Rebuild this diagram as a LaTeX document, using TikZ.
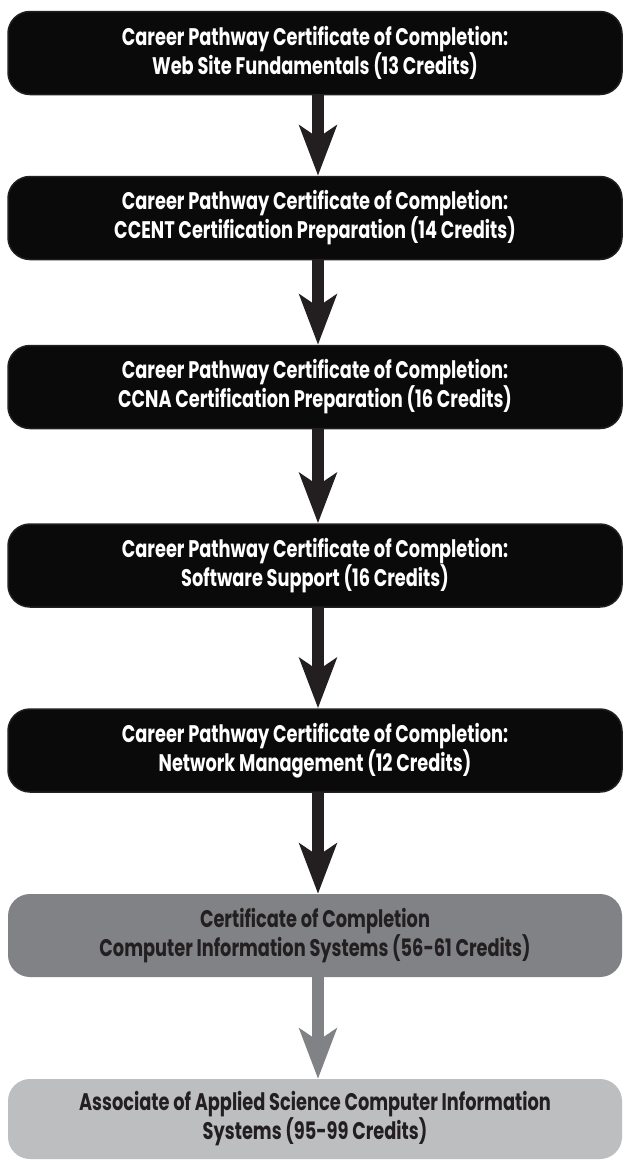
\documentclass[tikz,border=0pt]{standalone}
\usepackage{fontspec}
\newfontfamily\boxfont[FakeStretch=0.74]{Poppins}
\usetikzlibrary{arrows.meta}
\definecolor{inkblack}{HTML}{0A0A0A}
\definecolor{edgeblack}{HTML}{231F20}
\definecolor{midgray}{HTML}{808285}
\definecolor{lightgray}{HTML}{BCBEC0}
\tikzset{
  stagebox/.style={rounded corners=22pt, minimum width=614pt, minimum height=83pt,
    inner sep=0pt, align=center, font=\boxfont\bfseries\fontsize{24}{29}\selectfont},
  darkbox/.style={stagebox, fill=inkblack, draw=edgeblack, line width=1.5pt, text=white},
  graybox/.style={stagebox, fill=midgray, text=edgeblack},
  palebox/.style={stagebox, fill=lightgray, text=edgeblack},
  flowarrow/.style={line width=12pt, draw=edgeblack,
    -{Stealth[length=50pt,width=37pt,inset=12pt]}},
  grayarrow/.style={flowarrow, draw=midgray}
}
\begin{document}
\begin{tikzpicture}[x=1pt,y=-1pt]
\useasboundingbox (0,0) rectangle (624,1160);
\fill[white] (0,0) rectangle (624,1160);
\node[darkbox] (b1) at (315,53) {Career Pathway Certificate of Completion:\\Web Site Fundamentals (13 Credits)};
\node[darkbox] (b2) at (315,218) {Career Pathway Certificate of Completion:\\CCENT Certification Preparation (14 Credits)};
\node[darkbox] (b3) at (315,387) {Career Pathway Certificate of Completion:\\CCNA Certification Preparation (16 Credits)};
\node[darkbox] (b4) at (315,565.5) {Career Pathway Certificate of Completion:\\Software Support (16 Credits)};
\node[darkbox] (b5) at (315,750.5) {Career Pathway Certificate of Completion:\\Network Management (12 Credits)};
\node[graybox] (b6) at (315,935.5) {Certificate of Completion\\Computer Information Systems (56-61 Credits)};
\node[palebox, minimum height=80pt] (b7) at (315,1119) {Associate of Applied Science Computer Information\\Systems (95-99 Credits)};
\draw[flowarrow] ([xshift=3pt]b1.south) -- ([xshift=3pt]b2.north);
\draw[flowarrow] ([xshift=3pt]b2.south) -- ([xshift=3pt]b3.north);
\draw[flowarrow] ([xshift=3pt]b3.south) -- ([xshift=3pt]b4.north);
\draw[flowarrow] ([xshift=3pt]b4.south) -- ([xshift=3pt]b5.north);
\draw[flowarrow] ([xshift=3pt]b5.south) -- ([xshift=3pt]b6.north);
\draw[grayarrow] ([xshift=3pt]b6.south) -- ([xshift=3pt]b7.north);
\end{tikzpicture}
\end{document}
